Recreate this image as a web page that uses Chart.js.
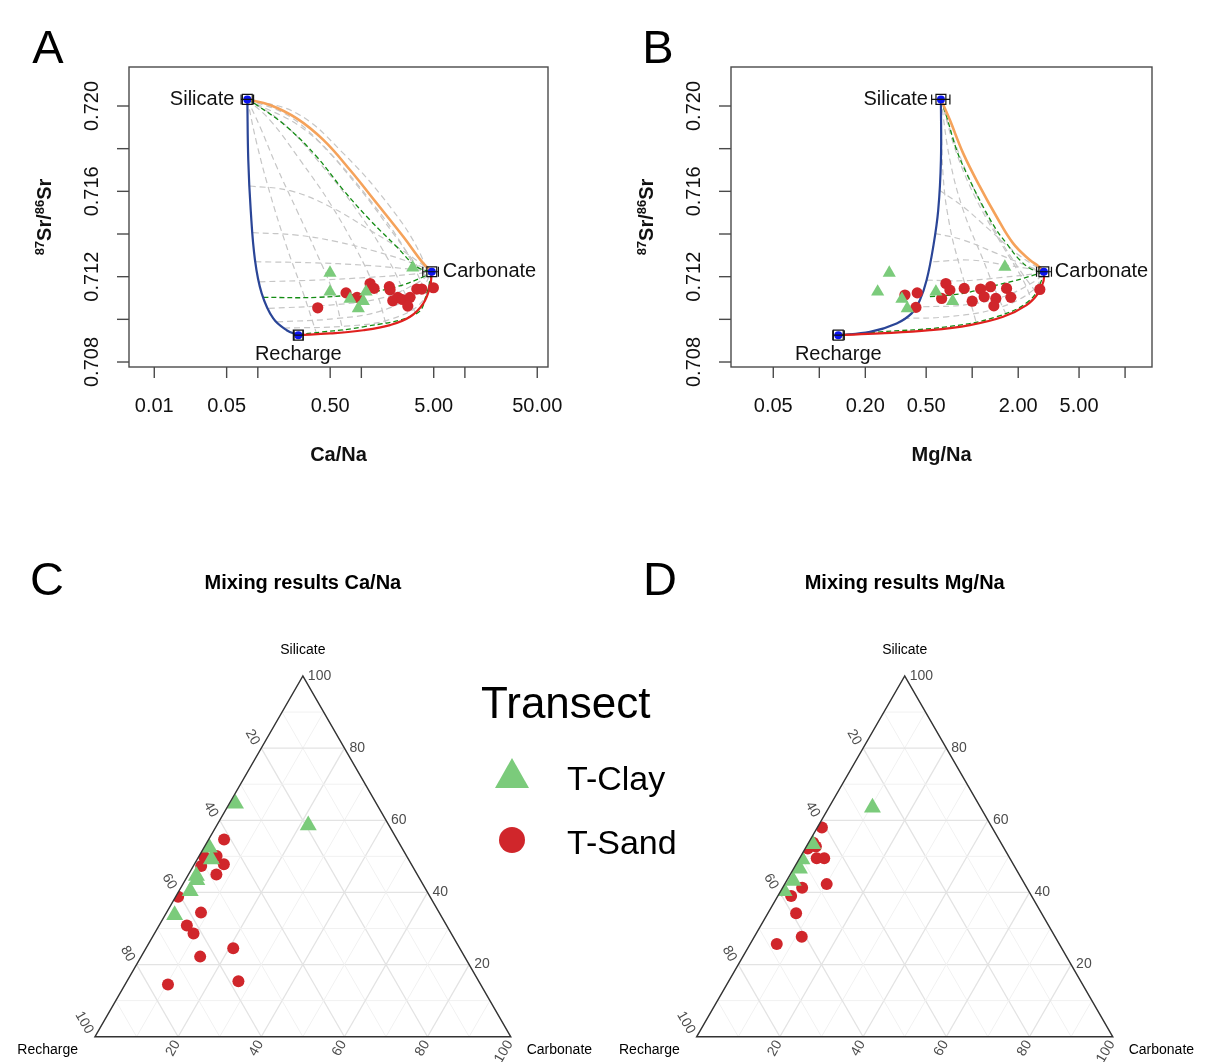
<!DOCTYPE html>
<html>
<head>
<meta charset="utf-8">
<title>Sr mixing</title>
<script src="https://cdn.jsdelivr.net/npm/chart.js@4.4.1/dist/chart.umd.min.js"></script>
<style>
  html, body { margin: 0; padding: 0; background: #fff; }
  body { position: relative; width: 1205px; height: 1062px; overflow: hidden; font-family: "Liberation Sans", Arial, sans-serif; }
  canvas { position: absolute; }
  .lg { position: absolute; line-height: 1; color: #000; white-space: nowrap; }
</style>
</head>
<body>
<canvas id="chartA" width="602" height="490" style="left:0;top:0"></canvas>
<canvas id="chartB" width="603" height="490" style="left:602px;top:0"></canvas>
<canvas id="chartC" width="602" height="572" style="left:0;top:490px"></canvas>
<canvas id="chartD" width="603" height="572" style="left:602px;top:490px"></canvas>

<div class="lg" style="left:481px;top:681px;font-size:44px">Transect</div>
<svg style="position:absolute;left:495px;top:758px" width="34" height="30"><polygon points="17,0 34,30 0,30" fill="#7bcb7b"/></svg>
<div style="position:absolute;left:499px;top:827px;width:26px;height:26px;border-radius:50%;background:#d0262b"></div>
<div class="lg" style="left:567px;top:761px;font-size:34px">T-Clay</div>
<div class="lg" style="left:567px;top:825px;font-size:34px">T-Sand</div>

<script>
const FONT = '"Liberation Sans", Arial, sans-serif';
const SAND = '#d0262b';
const CLAY = '#7bcb7b';

// end-members (same Sr in both panels)
const endNames = ['Silicate', 'Carbonate', 'Recharge'];
const endSr = [0.72031, 0.71223, 0.70926];
const endCaNa = [0.0792, 4.79, 0.246];
const endCaNaLo = [0.069, 3.92, 0.224];
const endCaNaHi = [0.091, 5.55, 0.273];
const endMgNa = [0.6245, 2.942, 0.1331];
const endMgNaLo = [0.543, 2.636, 0.1225];
const endMgNaHi = [0.715, 3.30, 0.1457];

// samples, panel A
const sandCaNa = [0.379, 0.7115, 0.909, 1.214, 1.327, 1.864, 1.894, 2.012, 2.247, 2.489, 2.954, 2.808, 3.43, 3.833, 4.963];
const sandSrA = [0.71054, 0.71124, 0.71103, 0.71168, 0.71145, 0.71153, 0.71139, 0.71087, 0.71103, 0.71093, 0.71103, 0.71062, 0.71142, 0.71142, 0.71148];
const clayCaNa = [0.498, 0.498, 0.778, 1.11, 1.045, 0.935, 3.137];
const claySrA = [0.71218, 0.71129, 0.71095, 0.71129, 0.71085, 0.71051, 0.71242];

// samples, panel B
const sandMgNa = [0.3632, 0.4369, 0.4285, 0.673, 0.7148, 0.631, 0.8866, 1.0, 1.135, 1.198, 1.319, 1.428, 1.386, 1.678, 1.790, 2.77];
const sandSrB = [0.71114, 0.71124, 0.71056, 0.71168, 0.71137, 0.71098, 0.71145, 0.71085, 0.71142, 0.71106, 0.71153, 0.71098, 0.71063, 0.71145, 0.71103, 0.7114];
const clayMgNa = [0.2868, 0.2408, 0.347, 0.376, 0.579, 0.7447, 1.636];
const claySrB = [0.71218, 0.71129, 0.71095, 0.71051, 0.71129, 0.71085, 0.71246];

// ticks
const srTicks = [0.708, 0.710, 0.712, 0.714, 0.716, 0.718, 0.720];
const srLabels = ['0.708', '', '0.712', '', '0.716', '', '0.720'];
const caTicks = [0.01, 0.05, 0.1, 0.5, 1, 5, 10, 50];
const caLabels = ['0.01', '0.05', '', '0.50', '', '5.00', '', '50.00'];
const mgTicks = [0.05, 0.1, 0.2, 0.5, 1, 2, 5, 10];
const mgLabels = ['0.05', '', '0.20', '0.50', '', '2.00', '5.00', ''];

// mixing curves, panel A  [Ca/Na, 87Sr/86Sr]
const blueA = [[0.0792,0.72031],[0.0809,0.71747],[0.0854,0.71512],[0.0939,0.71278],[0.109,0.71122],[0.141,0.71004],[0.190,0.70949],[0.246,0.70926]];
const orangeA = [[0.0792,0.72031],[0.131,0.72005],[0.2375,0.71942],[0.4295,0.71841],[0.778,0.717],[1.409,0.71544],[2.546,0.71387],[3.97,0.71262],[4.79,0.71223]];
const redA = [[0.246,0.70926],[0.498,0.70934],[1.045,0.70949],[1.894,0.70973],[2.954,0.71012],[3.97,0.71075],[4.61,0.71153],[4.79,0.71223]];
const greenA = [
  [[0.0792,0.72031],[0.0976,0.72005],[0.190,0.71903],[0.371,0.71762],[0.670,0.71606],[1.214,0.71465],[2.198,0.7134],[3.43,0.71246],[4.79,0.71223]],
  [[0.113,0.71103],[0.371,0.71103],[1.045,0.71122],[2.198,0.71153],[3.97,0.71199],[4.79,0.71223]],
  [[0.246,0.70926],[0.275,0.70931],[1.045,0.70965],[3.43,0.71028],[4.28,0.71122],[4.79,0.71223]]
];
const meshA = [
  [[0.0832,0.71625],[0.2047,0.71603],[0.498,0.71528],[1.214,0.71418],[2.745,0.71309],[4.79,0.71223]],
  [[0.089,0.71406],[0.2375,0.71395],[0.5785,0.71364],[1.409,0.71317],[3.18,0.71262],[4.79,0.71223]],
  [[0.0944,0.7127],[0.3438,0.71265],[1.045,0.71254],[3.18,0.71234],[4.79,0.71223]],
  [[0.1034,0.71176],[0.371,0.71184],[1.214,0.71197],[3.18,0.71212],[4.79,0.71223]],
  [[0.1274,0.71051],[0.498,0.71067],[1.516,0.71098],[3.43,0.71169],[4.79,0.71223]],
  [[0.1533,0.70988],[0.5785,0.71004],[1.631,0.71043],[3.69,0.71137],[4.79,0.71223]],
  [[0.179,0.70959],[0.7,0.70968],[1.9,0.7100],[3.9,0.71085],[4.79,0.71223]],
  [[0.0792,0.72031],[0.0976,0.71825],[0.131,0.71591],[0.190,0.7134],[0.275,0.71122],[0.371,0.7093]],
  [[0.0792,0.72031],[0.105,0.71903],[0.1523,0.71715],[0.2375,0.71512],[0.371,0.71309],[0.5365,0.71122],[0.670,0.7094]],
  [[0.0792,0.72031],[0.131,0.71934],[0.2557,0.71747],[0.498,0.71544],[0.903,0.71325],[1.409,0.71122],[1.759,0.70965]],
  [[0.0792,0.72031],[0.1764,0.71919],[0.399,0.71731],[0.903,0.71512],[1.759,0.71293],[2.745,0.71106],[3.3,0.71035]],
  [[0.0792,0.72031],[0.2047,0.7195],[0.498,0.71778],[1.214,0.71559],[2.546,0.7134],[3.97,0.71153],[4.3,0.7111]],
  [[0.0792,0.72031],[0.2375,0.71966],[0.670,0.71778],[1.894,0.71528],[3.69,0.71309],[4.61,0.71153]],
  [[0.0792,0.72031],[0.3,0.7188],[0.9,0.7163],[2.2,0.7138],[3.9,0.7122],[4.75,0.7119]]
];

// mixing curves, panel B  [Mg/Na, 87Sr/86Sr]
const blueB = [[0.6245,0.72031],[0.6245,0.71747],[0.5995,0.71512],[0.556,0.7134],[0.5035,0.71184],[0.455,0.7109],[0.4017,0.71028],[0.3205,0.70981],[0.2145,0.70941],[0.1331,0.70926]];
const orangeB = [[0.6245,0.72031],[0.7148,0.71934],[0.8733,0.71778],[1.123,0.71622],[1.444,0.71481],[1.853,0.71356],[2.383,0.71278],[2.7,0.7125],[2.942,0.71223]];
const redB = [[0.1331,0.70926],[0.2492,0.70934],[0.529,0.70949],[0.966,0.70973],[1.594,0.71012],[2.268,0.71067],[2.701,0.71122],[2.93,0.7118],[2.942,0.71223]];
const greenB = [
  [[0.6245,0.72031],[0.6802,0.7195],[0.7907,0.71794],[0.919,0.71684],[1.18,0.71528],[1.444,0.71418],[1.678,0.71356],[2.05,0.71278],[2.504,0.71231],[2.942,0.71223]],
  [[0.529,0.71106],[0.8733,0.71122],[1.444,0.7116],[2.154,0.71192],[2.942,0.71223]],
  [[0.1331,0.70926],[0.2492,0.70941],[0.68,0.70965],[1.444,0.71012],[2.383,0.7109],[2.911,0.71199],[2.942,0.71223]]
];
const meshB = [
  [[0.6087,0.71606],[0.8733,0.71528],[1.305,0.71418],[1.951,0.71309],[2.942,0.71223]],
  [[0.5706,0.71403],[0.8733,0.71372],[1.444,0.71309],[2.383,0.71246],[2.942,0.71223]],
  [[0.556,0.7127],[0.966,0.71278],[1.678,0.71254],[2.636,0.71231],[2.942,0.71223]],
  [[0.5035,0.71184],[0.8733,0.71181],[1.594,0.71197],[2.636,0.71215],[2.942,0.71223]],
  [[0.478,0.71059],[0.8733,0.71067],[1.594,0.71106],[2.636,0.71184],[2.942,0.71223]],
  [[0.354,0.71004],[0.68,0.71012],[1.444,0.71051],[2.504,0.71137],[2.942,0.71223]],
  [[0.6245,0.72031],[0.6463,0.71668],[0.7148,0.71434],[0.8309,0.71246],[0.966,0.7109],[1.069,0.70978]],
  [[0.6245,0.72031],[0.7148,0.71747],[0.8733,0.71512],[1.18,0.71278],[1.444,0.71122],[1.678,0.71018]],
  [[0.6245,0.72031],[0.7907,0.71778],[1.069,0.71559],[1.594,0.7134],[2.154,0.71184],[2.45,0.7109]],
  [[0.6245,0.72031],[0.75,0.7185],[1.0,0.7163],[1.45,0.714],[2.1,0.7122],[2.6,0.7113]]
];

// ternary mixing results [Recharge, Silicate, Carbonate] in %
const ternTicks = [20, 40, 60, 80, 100];
const clayCa = [[33.9,64.6,1.5],[19.4,58.6,22.0],[46.3,52.4,1.3],[47.4,49.2,3.4],[53.3,44.6,2.1],[53.8,43.4,2.8],[56.9,40.4,2.7],[64.0,33.7,2.3]];
const sandCa = [[41.6,54.7,3.7],[48.8,49.9,1.3],[45.7,50.1,4.2],[50.8,47.3,1.9],[45.1,47.8,7.1],[48.3,45.0,6.7],[60.6,38.8,0.6],[57.3,34.4,8.3],[62.5,30.8,6.7],[62.0,28.6,9.4],[54.5,24.5,21.0],[63.6,22.2,14.2],[57.8,15.4,26.8],[75.2,14.5,10.3]];
const clayMg = [[26.0,63.5,10.5],[45.4,53.4,1.2],[50.1,49.2,0.7],[52.0,46.6,1.4],[55.2,43.2,1.6],[58.8,40.4,0.8]];
const sandMg = [[40.9,58.0,1.1],[45.1,53.8,1.1],[45.0,52.7,2.3],[46.4,49.5,4.1],[44.6,49.5,5.9],[47.6,42.3,10.1],[54.0,41.3,4.7],[57.8,39.0,3.2],[59.0,34.2,6.8],[60.9,27.7,11.4],[67.9,25.7,6.4],[59.3,40.6,0.1],[47.2,52.2,0.6]];

function pairs(arr) { return arr.map(p => ({ x: p[0], y: p[1] })); }
function cols(xs, ys) { return xs.map((v, i) => ({ x: v, y: ys[i] })); }

function lineDs(pts, color, width, dash) {
  return { data: pairs(pts), showLine: true, borderColor: color, borderWidth: width,
    borderDash: dash || [], pointRadius: 0, tension: 0.4, fill: false };
}

function srTitle(ctx, cx, cy) {
  const parts = [['87', 13, -7], ['Sr/', 20, 0], ['86', 13, -7], ['Sr', 20, 0]];
  ctx.save();
  ctx.translate(cx, cy);
  ctx.rotate(-Math.PI / 2);
  ctx.textAlign = 'left';
  ctx.textBaseline = 'alphabetic';
  let w = 0;
  parts.forEach(p => { ctx.font = 'bold ' + p[1] + 'px ' + FONT; w += ctx.measureText(p[0]).width; });
  let xx = -w / 2;
  parts.forEach(p => {
    ctx.font = 'bold ' + p[1] + 'px ' + FONT;
    ctx.fillText(p[0], xx, 7 + p[2]);
    xx += ctx.measureText(p[0]).width;
  });
  ctx.restore();
}

function xyFrame(c) {
  return {
    id: 'xyFrame',
    afterDatasetsDraw(chart) {
      const { ctx, scales: { x, y } } = chart;
      ctx.save();
      ctx.strokeStyle = '#111';
      ctx.lineWidth = 1.2;
      c.endX.forEach((v, i) => {
        const py = y.getPixelForValue(endSr[i]);
        const x0 = x.getPixelForValue(c.endLo[i]), x1 = x.getPixelForValue(c.endHi[i]);
        ctx.beginPath();
        ctx.moveTo(x0, py); ctx.lineTo(x1, py);
        ctx.moveTo(x0, py - 5); ctx.lineTo(x0, py + 5);
        ctx.moveTo(x1, py - 5); ctx.lineTo(x1, py + 5);
        ctx.stroke();
      });
      const px = i => x.getPixelForValue(c.endX[i]);
      const py = i => y.getPixelForValue(endSr[i]);
      ctx.font = '20px ' + FONT;
      ctx.fillStyle = '#111';
      ctx.textBaseline = 'middle';
      ctx.textAlign = 'right';
      ctx.fillText(endNames[0], px(0) - 13, py(0));
      ctx.textAlign = 'left';
      ctx.fillText(endNames[1], px(1) + 11, py(1));
      ctx.textAlign = 'center';
      ctx.fillText(endNames[2], px(2), py(2) + 19);
      ctx.restore();
    },
    afterDraw(chart) {
      const { ctx, chartArea: a, scales: { x, y } } = chart;
      const line = (x0, y0, x1, y1) => { ctx.beginPath(); ctx.moveTo(x0, y0); ctx.lineTo(x1, y1); ctx.stroke(); };
      ctx.save();
      ctx.strokeStyle = '#4a4a4a';
      ctx.lineWidth = 1.4;
      ctx.strokeRect(a.left, a.top, a.right - a.left, a.bottom - a.top);
      ctx.fillStyle = '#111';
      ctx.font = '20px ' + FONT;
      ctx.textAlign = 'center';
      ctx.textBaseline = 'middle';
      c.xTicks.forEach((v, i) => {
        const p = x.getPixelForValue(v);
        line(p, a.bottom, p, a.bottom + 11);
        if (c.xLabels[i]) ctx.fillText(c.xLabels[i], p, a.bottom + 39);
      });
      srTicks.forEach((v, i) => {
        const p = y.getPixelForValue(v);
        line(a.left - 12, p, a.left, p);
        if (srLabels[i]) {
          ctx.save();
          ctx.translate(a.left - 36.5, p);
          ctx.rotate(-Math.PI / 2);
          ctx.fillText(srLabels[i], 0, 0);
          ctx.restore();
        }
      });
      ctx.font = 'bold 20px ' + FONT;
      ctx.fillText(c.xTitle, (a.left + a.right) / 2, a.bottom + 88);
      srTitle(ctx, a.left - 85, (a.top + a.bottom) / 2);
      ctx.font = '47px ' + FONT;
      ctx.fillStyle = '#000';
      ctx.fillText(c.letter, c.letterX, 50);
      ctx.restore();
    }
  };
}

function xyChart(id, c) {
  const ds = [];
  c.mesh.forEach(p => ds.push(lineDs(p, '#c6c6c6', 1.2, [6, 4])));
  c.green.forEach(p => ds.push(lineDs(p, '#138c13', 1.3, [5, 3])));
  ds.push(lineDs(c.blue, '#2a4597', 2.2));
  ds.push(lineDs(c.orange, '#f5a25a', 2.6));
  ds.push(lineDs(c.red, '#e0201e', 2.2));
  ds.push({ data: cols(c.sandX, c.sandY), pointStyle: 'circle', pointRadius: 5.6,
    pointBackgroundColor: SAND, pointBorderWidth: 0 });
  ds.push({ data: cols(c.clayX, c.clayY), pointStyle: 'triangle', pointRadius: 7.6,
    pointBackgroundColor: CLAY, pointBorderWidth: 0 });
  ds.push({ data: cols(c.endX, endSr), pointStyle: 'circle', pointRadius: 4,
    pointBackgroundColor: '#0a14f0', pointBorderWidth: 0 });
  ds.push({ data: cols(c.endX, endSr), pointStyle: 'rect', pointRadius: 7,
    pointBackgroundColor: 'rgba(0,0,0,0)', pointBorderColor: '#111', pointBorderWidth: 1.2 });
  ds.reverse(); // first dataset is drawn on top

  new Chart(document.getElementById(id), {
    type: 'scatter',
    data: { datasets: ds },
    options: {
      responsive: false,
      animation: false,
      devicePixelRatio: 1,
      events: [],
      layout: { padding: c.pad },
      plugins: { legend: { display: false }, tooltip: { enabled: false } },
      scales: {
        x: { type: 'logarithmic', min: c.xMin, max: c.xMax, display: false },
        y: { type: 'linear', min: 0.707766, max: 0.721828, display: false }
      }
    },
    plugins: [xyFrame(c)]
  });
}

xyChart('chartA', {
  mesh: meshA, green: greenA, blue: blueA, orange: orangeA, red: redA,
  sandX: sandCaNa, sandY: sandSrA, clayX: clayCaNa, clayY: claySrA,
  endX: endCaNa, endLo: endCaNaLo, endHi: endCaNaHi,
  xTicks: caTicks, xLabels: caLabels, xTitle: 'Ca/Na', xMin: 0.0057, xMax: 63.5,
  letter: 'A', letterX: 48,
  pad: { left: 129, top: 67, right: 54, bottom: 123 }
});

xyChart('chartB', {
  mesh: meshB, green: greenB, blue: blueB, orange: orangeB, red: redB,
  sandX: sandMgNa, sandY: sandSrB, clayX: clayMgNa, clayY: claySrB,
  endX: endMgNa, endLo: endMgNaLo, endHi: endMgNaHi,
  xTicks: mgTicks, xLabels: mgLabels, xTitle: 'Mg/Na', xMin: 0.02645, xMax: 15.0,
  letter: 'B', letterX: 56,
  pad: { left: 129, top: 67, right: 53, bottom: 123 }
});

// ---------- ternary panels ----------
const H = Math.sqrt(3) / 2;
function ternXY(p) { return { x: (p[2] + p[1] / 2) / 100, y: p[1] / 100 * H }; }

function ternFrame(cfg) {
  const P = (chart, r, s, c) => {
    const q = ternXY([r, s, c]);
    return [chart.scales.x.getPixelForValue(q.x), chart.scales.y.getPixelForValue(q.y)];
  };
  return {
    id: 'ternFrame',
    beforeDatasetsDraw(chart) {
      const ctx = chart.ctx;
      const seg = (p, q) => { ctx.beginPath(); ctx.moveTo(p[0], p[1]); ctx.lineTo(q[0], q[1]); ctx.stroke(); };
      ctx.save();
      for (let k = 10; k < 100; k += 10) {
        ctx.strokeStyle = k % 20 ? '#f1f1f1' : '#e3e3e3';
        ctx.lineWidth = k % 20 ? 1 : 1.3;
        seg(P(chart, 100 - k, k, 0), P(chart, 0, k, 100 - k));
        seg(P(chart, 100 - k, 0, k), P(chart, 0, 100 - k, k));
        seg(P(chart, k, 100 - k, 0), P(chart, k, 0, 100 - k));
      }
      const A = P(chart, 0, 100, 0), L = P(chart, 100, 0, 0), R = P(chart, 0, 0, 100);
      ctx.beginPath();
      ctx.moveTo(A[0], A[1]); ctx.lineTo(L[0], L[1]); ctx.lineTo(R[0], R[1]); ctx.closePath();
      ctx.clip();
    },
    afterDatasetsDraw(chart) {
      const ctx = chart.ctx;
      ctx.restore();
      const A = P(chart, 0, 100, 0), L = P(chart, 100, 0, 0), R = P(chart, 0, 0, 100);
      ctx.save();
      ctx.strokeStyle = '#333';
      ctx.lineWidth = 1.5;
      ctx.beginPath();
      ctx.moveTo(A[0], A[1]); ctx.lineTo(L[0], L[1]); ctx.lineTo(R[0], R[1]); ctx.closePath();
      ctx.stroke();

      ctx.fillStyle = '#4d4d4d';
      ctx.font = '14px ' + FONT;
      ctx.textBaseline = 'middle';
      ternTicks.forEach(v => {
        // Silicate, right edge
        let p = P(chart, 0, v, 100 - v);
        ctx.textAlign = 'left';
        ctx.fillText(String(v), p[0] + 5, p[1]);
        // Carbonate, bottom edge
        p = P(chart, 100 - v, 0, v);
        ctx.save();
        ctx.translate(p[0] - 1, p[1] + 5);
        ctx.rotate(-Math.PI / 3);
        ctx.textAlign = 'right';
        ctx.fillText(String(v), 0, 0);
        ctx.restore();
        // Recharge, left edge
        p = P(chart, v, 100 - v, 0);
        ctx.save();
        ctx.translate(p[0] - 5, p[1] - 4);
        ctx.rotate(Math.PI / 3);
        ctx.textAlign = 'right';
        ctx.fillText(String(v), 0, 0);
        ctx.restore();
      });

      ctx.fillStyle = '#000';
      ctx.textAlign = 'center';
      ctx.fillText('Silicate', A[0], A[1] - 26);
      ctx.textAlign = 'right';
      ctx.fillText('Recharge', L[0] - 17, L[1] + 13);
      ctx.textAlign = 'left';
      ctx.fillText('Carbonate', R[0] + 16, R[1] + 13);

      ctx.textAlign = 'center';
      ctx.font = 'bold 20px ' + FONT;
      ctx.fillText(cfg.title, A[0], 93);
      ctx.font = '47px ' + FONT;
      ctx.fillText(cfg.letter, cfg.letterX, 92);
      ctx.restore();
    }
  };
}

function ternChart(id, cfg) {
  const ds = [
    { data: cfg.clay.map(ternXY), pointStyle: 'triangle', pointRadius: 9.8,
      pointBackgroundColor: CLAY, pointBorderWidth: 0 },
    { data: cfg.sand.map(ternXY), pointStyle: 'circle', pointRadius: 6,
      pointBackgroundColor: SAND, pointBorderWidth: 0 }
  ];
  new Chart(document.getElementById(id), {
    type: 'scatter',
    data: { datasets: ds },
    options: {
      responsive: false,
      animation: false,
      devicePixelRatio: 1,
      events: [],
      layout: { padding: cfg.pad },
      plugins: { legend: { display: false }, tooltip: { enabled: false } },
      scales: {
        x: { type: 'linear', min: 0, max: 1, display: false },
        y: { type: 'linear', min: 0, max: H, display: false }
      }
    },
    plugins: [ternFrame(cfg)]
  });
}

ternChart('chartC', {
  clay: clayCa, sand: sandCa, title: 'Mixing results Ca/Na', letter: 'C', letterX: 47,
  pad: { left: 95, top: 186, right: 91.3, bottom: 25.3 }
});
ternChart('chartD', {
  clay: clayMg, sand: sandMg, title: 'Mixing results Mg/Na', letter: 'D', letterX: 58,
  pad: { left: 94.7, top: 186, right: 92.3, bottom: 25.3 }
});
</script>
</body>
</html>
